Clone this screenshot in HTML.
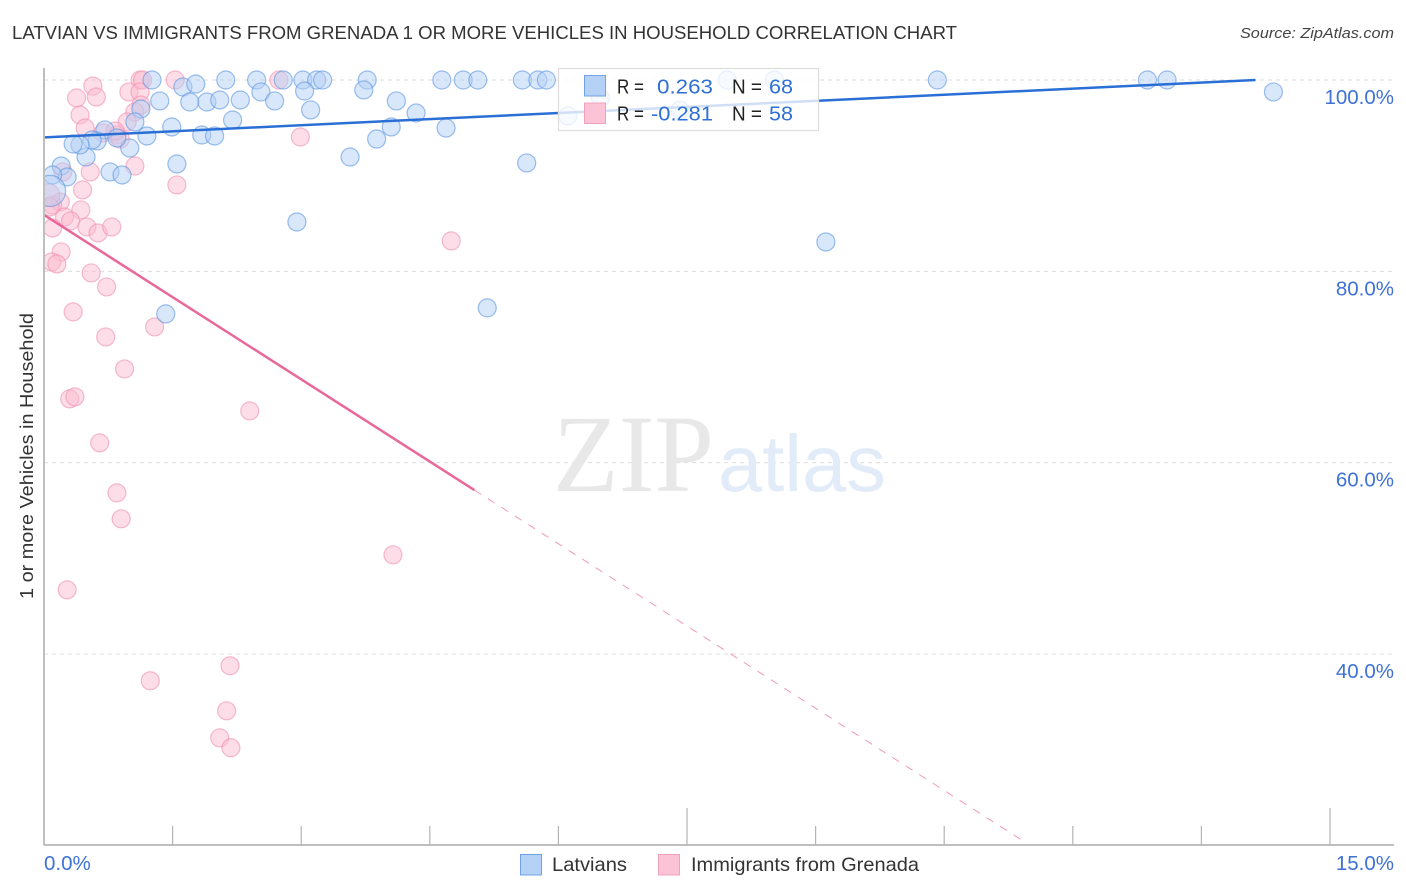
<!DOCTYPE html>
<html>
<head>
<meta charset="utf-8">
<title>Latvian vs Immigrants from Grenada chart</title>
<style>
html,body{margin:0;padding:0;background:#fff;width:1406px;height:892px;overflow:hidden;}
svg{display:block;font-family:"Liberation Sans",sans-serif;}
</style>
</head>
<body>
<svg id="chart" xmlns="http://www.w3.org/2000/svg" width="1406" height="892" viewBox="0 0 1406 892">
  <defs>
    <clipPath id="plot-clip"><rect x="45" y="60" width="1349" height="785"/></clipPath>
  </defs>
  <text x="12" y="39" font-size="18.5" fill="#333" textLength="945" lengthAdjust="spacingAndGlyphs">LATVIAN VS IMMIGRANTS FROM GRENADA 1 OR MORE VEHICLES IN HOUSEHOLD CORRELATION CHART</text>
  <text x="1394" y="38" font-size="15" font-style="italic" fill="#444" text-anchor="end" textLength="154" lengthAdjust="spacingAndGlyphs">Source: ZipAtlas.com</text>

  <g id="grid"></g>

  <g>
    <text x="553" y="491" font-family="'Liberation Serif',serif" font-size="110" fill="#e8e8e8" textLength="161" lengthAdjust="spacingAndGlyphs">ZIP</text>
    <text x="718" y="491" font-size="80" fill="#e2ebf8" textLength="168" lengthAdjust="spacingAndGlyphs">atlas</text>
  </g>

  <g id="axes">
    <line x1="44" y1="68" x2="44" y2="845" stroke="#aaa" stroke-width="1.5"/>
    <line x1="44" y1="845" x2="1394" y2="845" stroke="#aaa" stroke-width="1.5"/>
  </g>

  <g id="marks" clip-path="url(#plot-clip)"></g>

  <text transform="translate(33,456) rotate(-90)" font-size="18.5" fill="#333" text-anchor="middle" textLength="286" lengthAdjust="spacingAndGlyphs">1 or more Vehicles in Household</text>
  <g id="tick-labels"></g>

  <g>
    <rect x="558.5" y="68.5" width="260" height="62" fill="#fff" fill-opacity="0.78" stroke="#dcdcdc" stroke-width="1.2"/>
    <rect x="584.5" y="75.5" width="21" height="20.5" fill="#b5d2f6" stroke="#6fa3e4"/>
    <rect x="584.5" y="103" width="21" height="20.5" fill="#fcc3d6" stroke="#f0a0bc"/>
    <text x="617" y="93.5" font-size="20" fill="#222" textLength="27" lengthAdjust="spacingAndGlyphs">R =</text>
    <text x="713" y="93.5" font-size="20" fill="#2f6fd6" text-anchor="end" textLength="56" lengthAdjust="spacingAndGlyphs">0.263</text>
    <text x="732" y="93.5" font-size="20" fill="#222" textLength="30" lengthAdjust="spacingAndGlyphs">N =</text>
    <text x="769" y="93.5" font-size="20" fill="#2f6fd6" textLength="24" lengthAdjust="spacingAndGlyphs">68</text>
    <text x="617" y="120.5" font-size="20" fill="#222" textLength="27" lengthAdjust="spacingAndGlyphs">R =</text>
    <text x="713" y="120.5" font-size="20" fill="#2f6fd6" text-anchor="end" textLength="62" lengthAdjust="spacingAndGlyphs">-0.281</text>
    <text x="732" y="120.5" font-size="20" fill="#222" textLength="30" lengthAdjust="spacingAndGlyphs">N =</text>
    <text x="769" y="120.5" font-size="20" fill="#2f6fd6" textLength="24" lengthAdjust="spacingAndGlyphs">58</text>
  </g>

  <g>
    <rect x="520.5" y="854.5" width="21" height="20.5" fill="#b5d2f6" stroke="#6fa3e4"/>
    <text x="552" y="871" font-size="19.5" fill="#333" textLength="75" lengthAdjust="spacingAndGlyphs">Latvians</text>
    <rect x="658.5" y="854.5" width="21" height="20.5" fill="#fcc3d6" stroke="#f0a0bc"/>
    <text x="691" y="871" font-size="19.5" fill="#333" textLength="228" lengthAdjust="spacingAndGlyphs">Immigrants from Grenada</text>
  </g>
</svg>
<script>
const xTickValues = [0, 1.5, 3, 4.5, 6, 7.5, 9, 10.5, 12, 13.5, 15];
const yTickValues = [100, 80, 60, 40];
const yTickLabels = ["100.0%", "80.0%", "60.0%", "40.0%"];
const xEdgeValues = [0, 15];
const xEdgeLabels = ["0.0%", "15.0%"];

const latvianX = [1.26,2.12,2.48,2.79,3.02,3.18,3.25,3.77,4.64,4.89,5.06,5.58,5.76,5.86,7.97,8.52,10.42,12.87,13.10,14.34,1.62,1.77,2.53,3.04,3.73,4.11,1.35,1.70,1.90,2.05,2.29,2.69,3.11,4.34,1.13,2.20,1.06,1.49,1.84,1.99,1.20,0.71,4.69,4.05,3.88,3.57,5.63,1.55,1.00,0.85,0.62,0.56,0.49,0.42,0.34,0.77,0.91,0.20,0.27,0.10,0.07,2.95,9.12,5.17,1.42,6.11,6.49,7.42];
const latvianY = [100,100,100,100,100,100,100,100,100,100,100,100,100,100,100,100,100,100,100,98.75,99.27,99.58,98.75,98.85,98.96,97.81,97.81,97.70,97.70,97.91,97.91,97.81,96.87,96.55,96.97,95.82,95.61,95.09,94.25,94.15,94.15,94.78,94.98,95.09,93.83,91.95,91.33,91.22,92.89,93.94,93.63,93.73,91.95,93.21,93.31,90.39,90.07,91.01,89.86,90.07,88.40,85.16,83.07,76.18,75.55,96.24,98.12,96.87];
const latvianWeight = [1,1,1,1,1,1,1,1,1,1,1,1,1,1,1,1,1,1,1,1,1,1,1,1,1,1,1,1,1,1,1,1,1,1,1,1,1,1,1,1,1,1,1,1,1,1,1,1,1,1,1,1,1,1,1,1,1,1,1,1,3,1,1,1,1,1,1,1];

const grenadaX = [1.12,1.15,1.53,2.74,0.57,0.38,0.61,0.42,0.48,0.99,1.12,1.13,1.06,0.97,0.69,0.85,0.89,2.99,0.54,1.06,1.55,0.45,0.22,0.43,0.19,0.10,0.05,0.07,0.24,0.31,0.50,0.63,0.79,0.10,0.20,0.09,0.15,0.55,0.73,0.34,1.29,0.72,0.94,0.30,0.36,2.40,0.65,0.85,0.90,0.27,4.07,4.75,2.17,1.24,2.13,2.05,2.18,0.83];
const grenadaY = [100,100,100,100,99.37,98.12,98.22,96.34,94.98,98.75,98.75,97.39,96.66,95.61,94.46,94.25,93.83,94.04,90.39,91.01,89.03,88.51,90.39,86.42,87.25,86.94,87.98,86.73,85.68,85.27,84.64,84.01,84.64,84.53,82.03,80.98,80.77,79.83,78.37,75.76,74.19,73.14,69.80,66.67,66.88,65.41,62.07,56.84,54.13,46.71,50.37,83.18,38.77,37.20,34.06,31.24,30.20,94.67];
const grenadaWeight = [1,1,1,1,1,1,1,1,1,1,1,1,1,1,1,1,1,1,1,1,1,1,1,1,1,1,1.6,1,1,1,1,1,1,1,1,1,1,1,1,1,1,1,1,1,1,1,1,1,1,1,1,1,1,1,1,1,1,1];

const latvianTrend = [94.0, 0.4246];
const grenadaTrend = [85.9, -5.73];
const grenadaSolidEnd = [5.02];
const grenadaDashEndY = [20.5];

const NS = "http://www.w3.org/2000/svg";
function sx(v) { return 44 + v * (1330 - 44) / 15; }
function sy(v) { return 80 + (100 - v) * (654 - 80) / 60; }
function mk(parent, tag, attrs, text) {
  const el = document.createElementNS(NS, tag);
  for (const k in attrs) el.setAttribute(k, attrs[k]);
  if (text !== undefined) el.textContent = text;
  parent.appendChild(el);
  return el;
}
const gridG = document.getElementById("grid");
const axesG = document.getElementById("axes");
const marks = document.getElementById("marks");
const labelsG = document.getElementById("tick-labels");

yTickValues.forEach(function (v, i) {
  const line = mk(gridG, "line", {x1: 44, x2: 1394, y1: sy(v), y2: sy(v), stroke: "#dcdcdc", "stroke-width": 1, "stroke-dasharray": "4 4"});
  
  
  const t = mk(labelsG, "text", {x: 1394, y: sy(v) + 24, "font-size": 20.5, fill: "#3f72d6", "text-anchor": "end"}, yTickLabels[i]);
  
  
});

xTickValues.forEach(function (v, i) {
  if (i === 0) return;
  const top = (i % 5 === 0) ? 808 : 826;
  const tick = mk(axesG, "line", {x1: sx(v), x2: sx(v), y1: top, y2: 845, stroke: "#b4b4b4", "stroke-width": 1.2});
  
  
});

xEdgeValues.forEach(function (v, i) {
  const px = i === 0 ? sx(v) : 1394;
  const t = mk(labelsG, "text", {x: px, y: 870, "font-size": 20.5, fill: "#3f72d6", "text-anchor": i === 0 ? "start" : "end"}, xEdgeLabels[i]);
  
  
});

function drawPoints(xs, ys, ws, fill, stroke, name) {
  xs.forEach(function (x, i) {
    const c = mk(marks, "circle", {cx: sx(x), cy: sy(ys[i]), r: 9 * Math.sqrt(ws[i]), fill: fill, "fill-opacity": 0.5, stroke: stroke, "stroke-opacity": 0.6, "stroke-width": 1.2});
    
    
  });
}
drawPoints(grenadaX, grenadaY, grenadaWeight, "#fbbcd0", "#ee8fb0", "grenada-point");
drawPoints(latvianX, latvianY, latvianWeight, "#b3d0f5", "#5a95e0", "latvian-point");

const blueEnd = (100 - latvianTrend[0]) / latvianTrend[1];
const blueLine = mk(marks, "line", {x1: sx(0), y1: sy(latvianTrend[0]), x2: sx(blueEnd), y2: sy(100), stroke: "#2a6fd6", "stroke-width": 2.5});



const pinkSolid = mk(marks, "line", {x1: sx(0), y1: sy(grenadaTrend[0]), x2: sx(grenadaSolidEnd[0]), y2: sy(grenadaTrend[0] + grenadaTrend[1] * grenadaSolidEnd[0]), stroke: "#e9689a", "stroke-width": 2.5});



const dashEndX = (grenadaDashEndY[0] - grenadaTrend[0]) / grenadaTrend[1];
const pinkDash = mk(marks, "line", {x1: sx(grenadaSolidEnd[0]), y1: sy(grenadaTrend[0] + grenadaTrend[1] * grenadaSolidEnd[0]), x2: sx(dashEndX), y2: sy(grenadaDashEndY[0]), stroke: "#ec7fa8", "stroke-width": 1, "stroke-opacity": 0.8, "stroke-dasharray": "8 8"});


</script>
</body>
</html>
